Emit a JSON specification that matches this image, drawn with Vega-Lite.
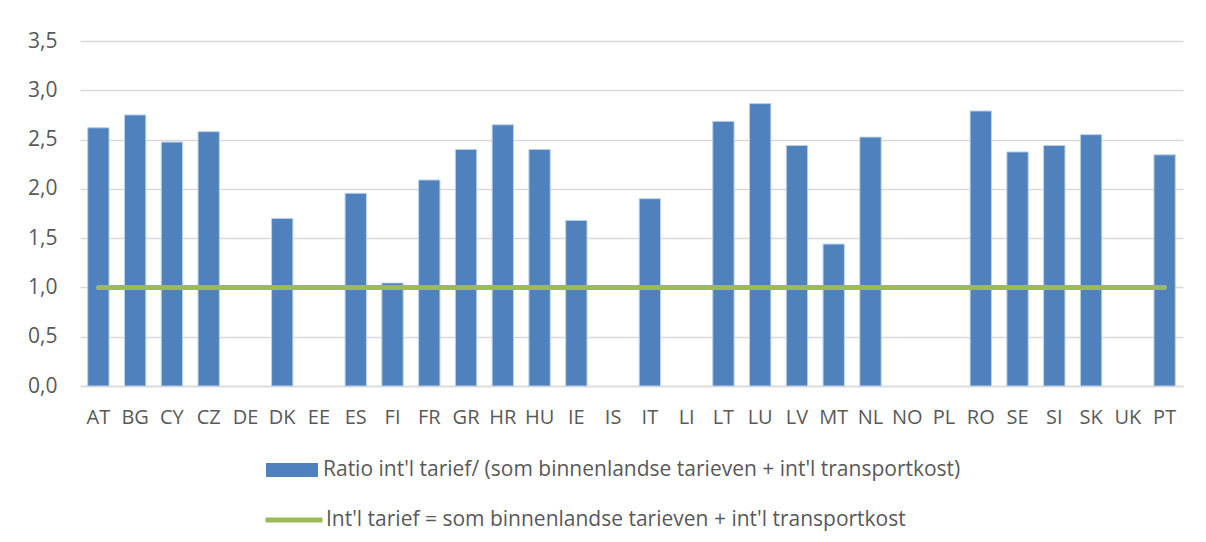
{
  "$schema": "https://vega.github.io/schema/vega-lite/v6.json",
  "width": 1103,
  "height": 345,
  "autosize": {"type": "none"},
  "padding": {"left": 80, "top": 41, "right": 23, "bottom": 156},
  "config": {
    "locale": {"number": {"decimal": ",", "thousands": ".", "grouping": [3], "currency": ["", " €"]}},
    "view": {"stroke": null},
    "font": "Open Sans"
  },
  "data": {
    "values": [
      {"country": "AT", "ratio": 2.62, "ref": 1},
      {"country": "BG", "ratio": 2.75, "ref": 1},
      {"country": "CY", "ratio": 2.475, "ref": 1},
      {"country": "CZ", "ratio": 2.58, "ref": 1},
      {"country": "DE", "ratio": null, "ref": 1},
      {"country": "DK", "ratio": 1.70, "ref": 1},
      {"country": "EE", "ratio": null, "ref": 1},
      {"country": "ES", "ratio": 1.955, "ref": 1},
      {"country": "FI", "ratio": 1.045, "ref": 1},
      {"country": "FR", "ratio": 2.09, "ref": 1},
      {"country": "GR", "ratio": 2.40, "ref": 1},
      {"country": "HR", "ratio": 2.65, "ref": 1},
      {"country": "HU", "ratio": 2.40, "ref": 1},
      {"country": "IE", "ratio": 1.68, "ref": 1},
      {"country": "IS", "ratio": null, "ref": 1},
      {"country": "IT", "ratio": 1.90, "ref": 1},
      {"country": "LI", "ratio": null, "ref": 1},
      {"country": "LT", "ratio": 2.685, "ref": 1},
      {"country": "LU", "ratio": 2.865, "ref": 1},
      {"country": "LV", "ratio": 2.44, "ref": 1},
      {"country": "MT", "ratio": 1.44, "ref": 1},
      {"country": "NL", "ratio": 2.525, "ref": 1},
      {"country": "NO", "ratio": null, "ref": 1},
      {"country": "PL", "ratio": null, "ref": 1},
      {"country": "RO", "ratio": 2.79, "ref": 1},
      {"country": "SE", "ratio": 2.375, "ref": 1},
      {"country": "SI", "ratio": 2.44, "ref": 1},
      {"country": "SK", "ratio": 2.55, "ref": 1},
      {"country": "UK", "ratio": null, "ref": 1},
      {"country": "PT", "ratio": 2.345, "ref": 1}
    ]
  },
  "encoding": {
    "x": {
      "field": "country",
      "type": "nominal",
      "sort": null,
      "scale": {
        "domain": ["AT","BG","CY","CZ","DE","DK","EE","ES","FI","FR","GR","HR","HU","IE","IS","IT","LI","LT","LU","LV","MT","NL","NO","PL","RO","SE","SI","SK","UK","PT"],
        "paddingInner": 0.42,
        "paddingOuter": 0.21
      },
      "axis": {
        "title": null,
        "labelAngle": 0,
        "labelFontSize": 20,
        "labelColor": "#595959",
        "labelPadding": 21,
        "ticks": false,
        "domainColor": "#D9D9D9",
        "domainWidth": 1.5,
        "grid": false
      }
    }
  },
  "layer": [
    {
      "mark": {"type": "bar", "stroke": "#BCD0E8", "strokeWidth": 1},
      "encoding": {
        "y": {
          "field": "ratio",
          "type": "quantitative",
          "scale": {"domain": [0, 3.5]},
          "axis": {
            "title": null,
            "values": [0, 0.5, 1, 1.5, 2, 2.5, 3, 3.5],
            "format": ".1f",
            "labelFontSize": 21,
            "labelColor": "#595959",
            "labelPadding": 23,
            "ticks": false,
            "domain": false,
            "gridColor": "#D9D9D9",
            "gridWidth": 1.5
          }
        },
        "fill": {
          "datum": "Ratio int'l tarief/ (som binnenlandse tarieven + int'l transportkost)",
          "scale": {"range": ["#4F81BD"]},
          "legend": {
            "title": null,
            "orient": "none",
            "legendX": 186,
            "legendY": 403,
            "symbolType": "M-1,-0.27H1V0.27H-1Z",
            "symbolSize": 2704,
            "symbolStrokeWidth": 0,
            "labelFontSize": 21,
            "labelColor": "#595959",
            "labelOffset": 5,
            "labelLimit": 0
          }
        }
      }
    },
    {
      "mark": {"type": "line", "strokeWidth": 5, "strokeCap": "round"},
      "encoding": {
        "y": {"field": "ref", "type": "quantitative"},
        "stroke": {
          "datum": "Int'l tarief = som binnenlandse tarieven + int'l transportkost",
          "scale": {"range": ["#9BBB59"]},
          "legend": {
            "title": null,
            "orient": "none",
            "legendX": 183,
            "legendY": 448,
            "symbolType": "stroke",
            "symbolSize": 3249,
            "symbolStrokeWidth": 5,
            "labelFontSize": 21,
            "labelColor": "#595959",
            "labelOffset": 1,
            "labelLimit": 0
          }
        }
      }
    }
  ]
}
